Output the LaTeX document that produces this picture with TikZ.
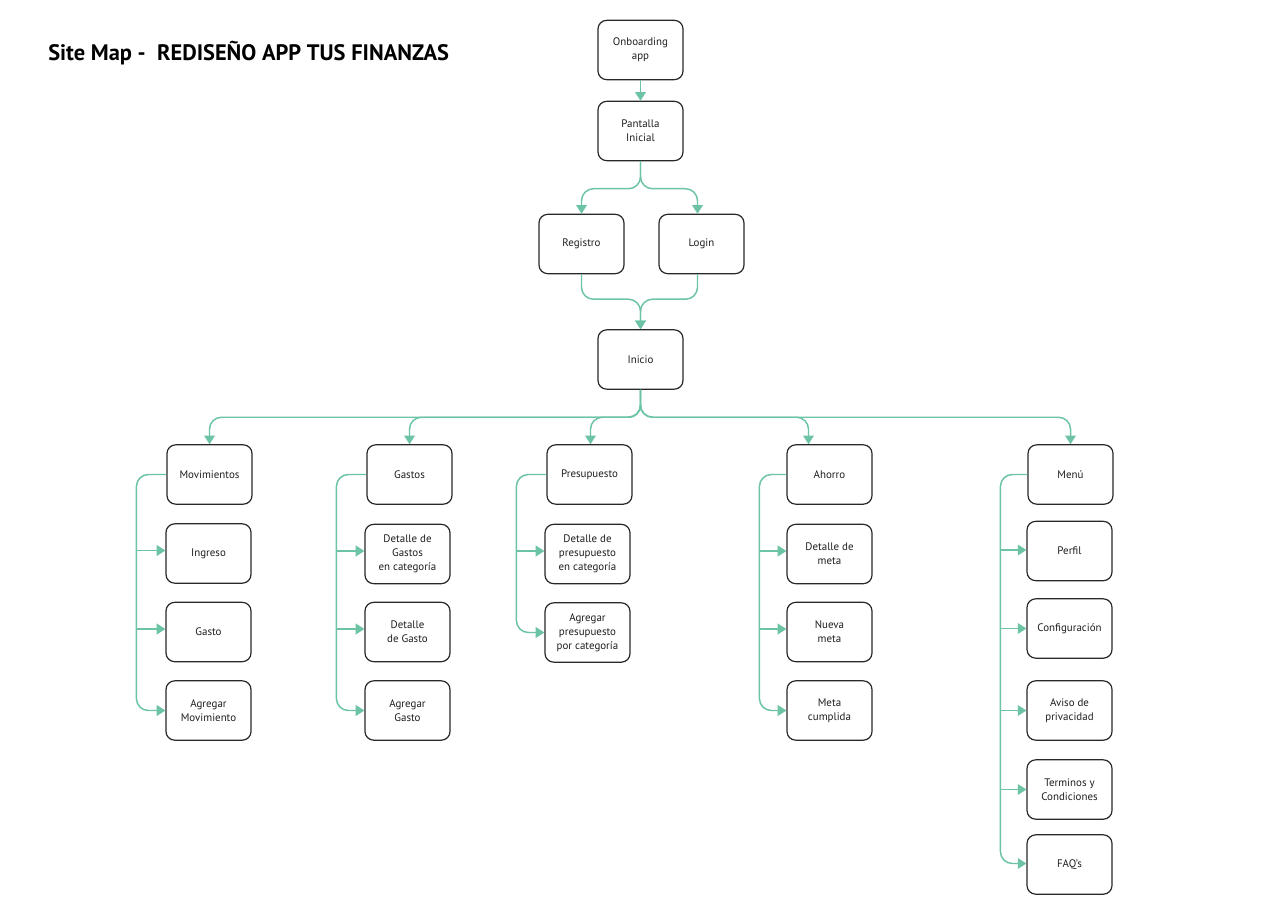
\documentclass[tikz,border=0pt]{standalone}
\usepackage{fontspec}
\setmainfont{PT Sans}
\usetikzlibrary{arrows.meta,calc}
\definecolor{linkc}{RGB}{108,196,164}
\definecolor{boxc}{RGB}{40,40,40}
\definecolor{textc}{RGB}{30,30,30}
\tikzset{
  box/.style={draw=boxc, line width=0.9pt, rounded corners=6.5pt, minimum width=63.75pt, minimum height=44.5pt, align=center, inner sep=0pt, font=\fontsize{8.2}{10.5}\selectfont, text=textc},
  conn/.style={draw=linkc, line width=1.1pt, rounded corners=9pt, -{Triangle[width=8pt,length=6.5pt]}},
  branch/.style={draw=linkc, line width=1.1pt, -{Triangle[width=8pt,length=6.5pt]}},
}
\begin{document}
\begin{tikzpicture}[x=0.75pt,y=-0.75pt]
\fill[white] (0,0) rectangle (1280,923);
\useasboundingbox (0,0) rectangle (1280,923);

\node[anchor=west, font=\fontsize{16.8}{20}\selectfont\bfseries, text=black, inner sep=0pt] (title) at (48,53) {Site Map -\ \ REDISEÑO APP TUS FINANZAS};

% top
\node[box] (onb) at (640.5,50) {Onboarding\\app};
\node[box] (pan) at (640.5,131) {Pantalla\\Inicial};
\node[box] (reg) at (581.5,244) {Registro};
\node[box] (log) at (701.5,244) {Login};
\node[box] (ini) at (640.5,359.5) {Inicio};

% columns
\node[box] (mov) at (209.5,474.5) {Movimientos};
\node[box] (ing) at (208.5,553.5) {Ingreso};
\node[box] (gas) at (208.5,632) {Gasto};
\node[box] (agm) at (208.5,710.5) {Agregar\\Movimiento};

\node[box] (gts) at (409.5,474.5) {Gastos};
\node[box] (dgc) at (407.5,554) {Detalle de\\Gastos\\en categoría};
\node[box] (ddg) at (407.5,632) {Detalle\\de Gasto};
\node[box] (agg) at (407.5,710.5) {Agregar\\Gasto};

\node[box] (pre) at (589.5,474.5) {Presupuesto};
\node[box] (dpc) at (587.5,554) {Detalle de\\presupuesto\\en categoría};
\node[box] (apc) at (587.5,632.5) {Agregar\\presupuesto\\por categoría};

\node[box] (aho) at (829.5,474.5) {Ahorro};
\node[box] (dme) at (829.5,554) {Detalle de\\meta};
\node[box] (nme) at (829.5,632) {Nueva\\meta};
\node[box] (mcu) at (829.5,710.5) {Meta\\cumplida};

\node[box] (men) at (1070.5,474.5) {Menú};
\node[box] (per) at (1069.5,551) {Perfil};
\node[box] (con) at (1069.5,628.5) {Configuración};
\node[box] (avi) at (1069.5,710.5) {Aviso de\\privacidad};
\node[box] (ter) at (1069.5,789.5) {Terminos y\\Condiciones};
\node[box] (faq) at (1069.5,864.5) {FAQ’s};

% top connectors
\draw[branch] (onb.south) -- (pan.north);
\draw[conn] (pan.south) |- ($(reg.north)+(0,-25)$) -- (reg.north);
\draw[conn] (pan.south) |- ($(log.north)+(-4,-25)$) -- ($(log.north)+(-4,0)$);
\draw[conn] (reg.south) |- ($(ini.north)+(0,-30)$) -- (ini.north);
\draw[conn] ($(log.south)+(-4,0)$) |- ($(ini.north)+(0,-30)$) -- (ini.north);

% fan out from Inicio
\draw[conn] (ini.south) |- ($(mov.north)+(0,-27)$) -- (mov.north);
\draw[conn] (ini.south) |- ($(gts.north)+(0,-27)$) -- (gts.north);
\draw[conn] (ini.south) |- ($(pre.north)+(1,-27)$) -- ($(pre.north)+(1,0)$);
\draw[conn] (ini.south) |- ($(aho.north)+(-21,-27)$) -- ($(aho.north)+(-21,0)$);
\draw[conn] (ini.south) |- ($(men.north)+(0,-27)$) -- (men.north);

% Movimientos
\draw[conn] (mov.west) -| ($(agm.west)+(-29,0)$) -- (agm.west);
\draw[branch] ($(ing.west)+(-29,-3)$) -- ($(ing.west)+(0,-3)$);
\draw[branch] ($(gas.west)+(-29,-3)$) -- ($(gas.west)+(0,-3)$);

% Gastos
\draw[conn] (gts.west) -| ($(agg.west)+(-28,0)$) -- (agg.west);
\draw[branch] ($(dgc.west)+(-28,-3)$) -- ($(dgc.west)+(0,-3)$);
\draw[branch] ($(ddg.west)+(-28,-3)$) -- ($(ddg.west)+(0,-3)$);

% Presupuesto
\draw[conn] (pre.west) -| ($(apc.west)+(-28,0)$) -- (apc.west);
\draw[branch] ($(dpc.west)+(-28,-3)$) -- ($(dpc.west)+(0,-3)$);

% Ahorro
\draw[conn] (aho.west) -| ($(mcu.west)+(-27,0)$) -- (mcu.west);
\draw[branch] ($(dme.west)+(-27,-3)$) -- ($(dme.west)+(0,-3)$);
\draw[branch] ($(nme.west)+(-27,-3)$) -- ($(nme.west)+(0,-3)$);

% Menu
\draw[conn] (men.west) -| ($(faq.west)+(-26,-1)$) -- ($(faq.west)+(0,-1)$);
\draw[branch] ($(per.west)+(-26,-1)$) -- ($(per.west)+(0,-1)$);
\draw[branch] ($(con.west)+(-26,0)$) -- (con.west);
\draw[branch] ($(avi.west)+(-26,0)$) -- (avi.west);
\draw[branch] ($(ter.west)+(-26,0)$) -- (ter.west);
\end{tikzpicture}
\end{document}
